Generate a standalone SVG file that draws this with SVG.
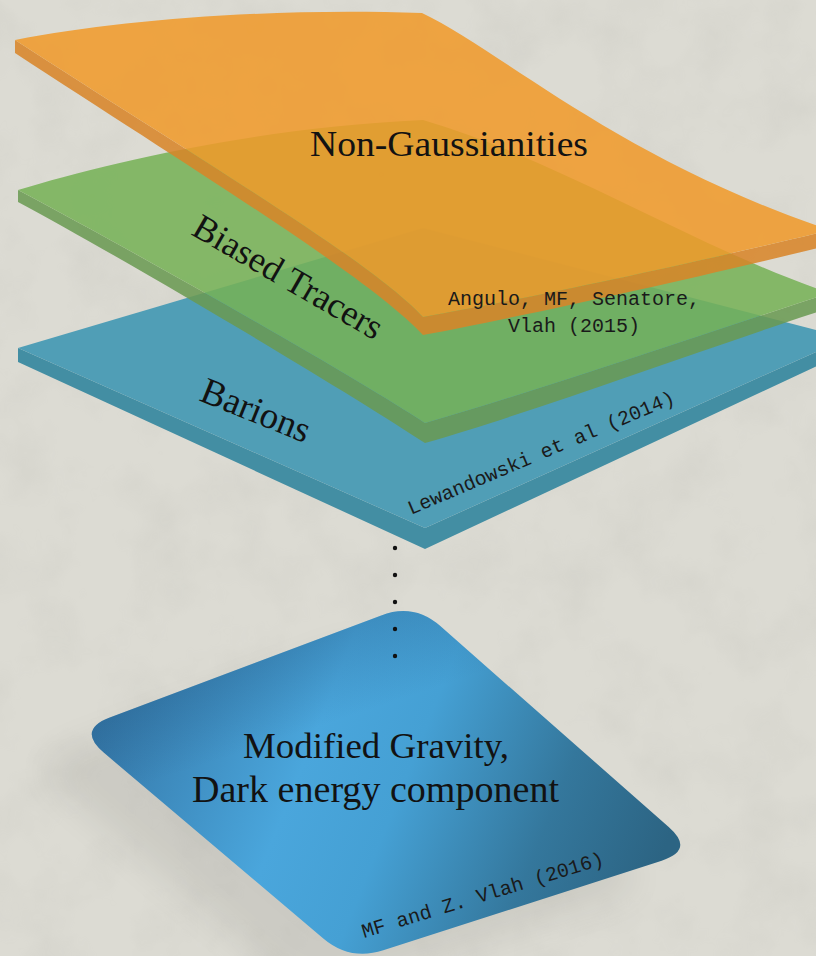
<svg xmlns="http://www.w3.org/2000/svg" width="816" height="956" viewBox="0 0 816 956">
  <defs>
    <style>
      .serif { font-family: "Liberation Serif", "DejaVu Serif", serif; fill: #121212; }
      .mono { font-family: "Liberation Mono", "DejaVu Sans Mono", monospace; fill: #1a1a1a; font-size: 20px; }
      .dot { fill: #111; }
    </style>
    <filter id="paper" x="0" y="0" width="100%" height="100%">
      <feTurbulence type="fractalNoise" baseFrequency="0.015" numOctaves="4" seed="7" result="n"/>
      <feColorMatrix in="n" type="matrix" values="0 0 0 0 0.35  0 0 0 0 0.35  0 0 0 0 0.32  0 0 0 -1.2 0.7"/>
      <feComposite in2="SourceGraphic" operator="in"/>
    </filter>
    <filter id="soft" x="-30%" y="-30%" width="160%" height="160%">
      <feGaussianBlur stdDeviation="18"/>
    </filter>
    <linearGradient id="gravityFill" gradientUnits="userSpaceOnUse" x1="110" y1="640" x2="660" y2="860">
      <stop offset="0" stop-color="#3373a3"/>
      <stop offset="0.38" stop-color="#4aa6dc"/>
      <stop offset="0.55" stop-color="#45a0d4"/>
      <stop offset="0.8" stop-color="#34779c"/>
      <stop offset="1" stop-color="#2c6483"/>
    </linearGradient>
    <linearGradient id="gravityShade" gradientUnits="userSpaceOnUse" x1="300" y1="600" x2="340" y2="720">
      <stop offset="0" stop-color="#1d4f78" stop-opacity="0.4"/>
      <stop offset="1" stop-color="#1d4f78" stop-opacity="0"/>
    </linearGradient>
    <path id="tile" d="M109.8,717.6 L381.2,615.4 Q414,603 440.3,626.1 L668.7,826.9 Q695,850 661.7,860.7 L383.3,950.3 Q350,961 323.3,938.4 L103.7,752.6 Q77,730 109.8,717.6 Z"/>
  </defs>

  <!-- paper background -->
  <rect width="816" height="956" fill="#dcdbd3"/>
  <rect width="816" height="956" fill="#dcdbd3" filter="url(#paper)" opacity="0.18"/>

  <!-- Barions plate (bottom, flat) -->
  <g id="barions">
    <path d="M18,348 L425,528 L847,338 L847,352 L425,549 L18,362 Z" fill="#438ea3"/>
    <path d="M18,348 L423,228 L847,338 L425,528 Z" fill="#509eb6"/>
  </g>

  <!-- Biased tracers plate (curved, translucent) -->
  <g id="biased-tracers" opacity="0.86">
    <path d="M18,190 C150,260 360,380 425,423 C540,390 700,335 830,293 L830,308 C700,350 540,410 425,443 C360,400 150,273 18,202 Z" fill="#6a9a52"/>
    <path d="M18,190 C100,165 250,128 423,120 C560,160 700,250 830,293 C700,335 540,390 425,423 C360,380 150,260 18,190 Z" fill="#76b256"/>
  </g>

  <!-- Non-Gaussianities plate (curved, translucent) -->
  <g id="non-gaussianities" opacity="0.86">
    <path d="M15,40 C200,160 370,260 423,317 C520,300 700,262 830,230 L830,245 C700,277 520,317 423,335 C370,278 200,174 15,53 Z" fill="#d98528"/>
    <path d="M15,40 C120,20 260,8 422,13 C500,50 620,160 830,230 C700,262 520,300 423,317 C370,260 200,160 15,40 Z" fill="#f19a2a"/>
  </g>

  <!-- layer labels -->
  <g id="labels">
    <text class="serif" x="449" y="156" font-size="36" text-anchor="middle" textLength="278" lengthAdjust="spacingAndGlyphs">Non-Gaussianities</text>
    <text class="serif" font-size="36" transform="translate(190,234) rotate(30)">Biased Tracers</text>
    <text class="serif" font-size="37" transform="translate(198,400) rotate(22)">Barions</text>
    <text class="mono" x="574" y="305" text-anchor="middle">Angulo, MF, Senatore,</text>
    <text class="mono" x="574" y="332" text-anchor="middle">Vlah (2015)</text>
    <text class="mono" transform="translate(411,515) rotate(-23)">Lewandowski et al (2014)</text>
  </g>

  <!-- Modified gravity base tile -->
  <g id="modified-gravity">
    <use href="#tile" transform="translate(-45,35)" fill="#000" opacity="0.07" filter="url(#soft)"/>
    <use href="#tile" fill="url(#gravityFill)"/>
    <use href="#tile" fill="url(#gravityShade)"/>
    <text class="serif" x="376" y="758" font-size="36" text-anchor="middle" textLength="266" lengthAdjust="spacingAndGlyphs">Modified Gravity,</text>
    <text class="serif" x="375.5" y="802" font-size="37" text-anchor="middle" textLength="367" lengthAdjust="spacingAndGlyphs">Dark energy component</text>
    <text class="mono" transform="translate(364,938) rotate(-17)">MF and Z. Vlah (2016)</text>
  </g>

  <!-- ellipsis linking the layers to the base tile -->
  <g id="connectors">
    <circle class="dot" cx="395" cy="548" r="2.2"/>
    <circle class="dot" cx="395" cy="575" r="2.2"/>
    <circle class="dot" cx="395" cy="602" r="2.2"/>
    <circle class="dot" cx="395" cy="629" r="2.2"/>
    <circle class="dot" cx="395" cy="656" r="2.2"/>
  </g>
</svg>
